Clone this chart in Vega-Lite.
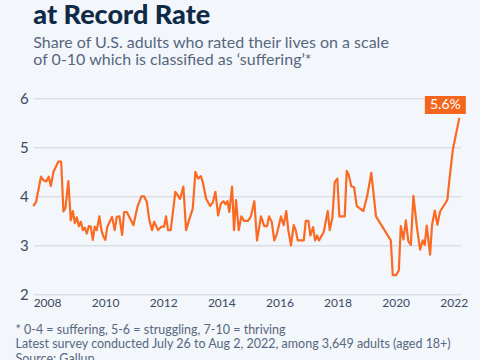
{
  "$schema": "https://vega.github.io/schema/vega-lite/v6.json",
  "width": 427.4,
  "height": 196,
  "autosize": {"type": "none"},
  "padding": {"left": 33.3, "top": 98.3, "right": 19.3, "bottom": 65.7},
  "background": "#f3f6fa",
  "config": {"view": {"stroke": null}, "font": "Lato"},
  "title": {
    "text": "at Record Rate",
    "subtitle": ["Share of U.S. adults who rated their lives on a scale", "of 0-10 which is classified as ‘suffering’*"],
    "anchor": "start",
    "frame": "group",
    "font": "Lato",
    "fontSize": 27,
    "fontWeight": 900,
    "color": "#0e2a47",
    "subtitleFont": "Lato",
    "subtitleFontSize": 16,
    "subtitleColor": "#56677f",
    "subtitleLineHeight": 17.5,
    "subtitlePadding": 5,
    "offset": 22
  },
  "data": {"values": [
    {"date": "2008-01-10", "value": 3.80},
    {"date": "2008-02-15", "value": 3.89},
    {"date": "2008-04-15", "value": 4.40},
    {"date": "2008-05-15", "value": 4.33},
    {"date": "2008-06-20", "value": 4.30},
    {"date": "2008-07-22", "value": 4.40},
    {"date": "2008-08-17", "value": 4.21},
    {"date": "2008-09-20", "value": 4.50},
    {"date": "2008-11-20", "value": 4.71},
    {"date": "2008-12-25", "value": 4.71},
    {"date": "2009-01-23", "value": 3.69},
    {"date": "2009-02-17", "value": 3.76},
    {"date": "2009-03-26", "value": 4.31},
    {"date": "2009-04-25", "value": 3.51},
    {"date": "2009-05-21", "value": 3.70},
    {"date": "2009-06-15", "value": 3.45},
    {"date": "2009-07-10", "value": 3.57},
    {"date": "2009-08-05", "value": 3.39},
    {"date": "2009-08-30", "value": 3.48},
    {"date": "2009-09-24", "value": 3.31},
    {"date": "2009-10-19", "value": 3.36},
    {"date": "2009-11-13", "value": 3.24},
    {"date": "2009-12-08", "value": 3.39},
    {"date": "2010-01-02", "value": 3.38},
    {"date": "2010-01-27", "value": 3.11},
    {"date": "2010-02-21", "value": 3.38},
    {"date": "2010-03-18", "value": 3.31},
    {"date": "2010-04-20", "value": 3.59},
    {"date": "2010-05-15", "value": 3.31},
    {"date": "2010-06-09", "value": 3.18},
    {"date": "2010-07-04", "value": 3.11},
    {"date": "2010-07-29", "value": 3.38},
    {"date": "2010-09-26", "value": 3.58},
    {"date": "2010-10-30", "value": 3.31},
    {"date": "2010-11-24", "value": 3.58},
    {"date": "2010-12-27", "value": 3.59},
    {"date": "2011-01-31", "value": 3.21},
    {"date": "2011-02-25", "value": 3.68},
    {"date": "2011-03-31", "value": 3.68},
    {"date": "2011-06-22", "value": 3.41},
    {"date": "2011-08-11", "value": 3.78},
    {"date": "2011-09-30", "value": 4.00},
    {"date": "2011-11-03", "value": 4.00},
    {"date": "2011-12-07", "value": 3.89},
    {"date": "2012-01-08", "value": 3.51},
    {"date": "2012-02-11", "value": 3.31},
    {"date": "2012-03-08", "value": 3.48},
    {"date": "2012-04-27", "value": 3.31},
    {"date": "2012-06-07", "value": 3.38},
    {"date": "2012-07-11", "value": 3.38},
    {"date": "2012-08-05", "value": 3.59},
    {"date": "2012-08-30", "value": 3.31},
    {"date": "2012-10-03", "value": 3.31},
    {"date": "2012-11-30", "value": 4.09},
    {"date": "2013-01-29", "value": 3.95},
    {"date": "2013-03-11", "value": 4.20},
    {"date": "2013-04-14", "value": 3.31},
    {"date": "2013-05-28", "value": 3.55},
    {"date": "2013-07-07", "value": 3.75},
    {"date": "2013-08-09", "value": 4.50},
    {"date": "2013-09-12", "value": 4.36},
    {"date": "2013-10-16", "value": 4.41},
    {"date": "2013-11-10", "value": 4.29},
    {"date": "2013-12-22", "value": 3.95},
    {"date": "2014-02-10", "value": 3.80},
    {"date": "2014-03-16", "value": 3.88},
    {"date": "2014-04-18", "value": 4.09},
    {"date": "2014-05-22", "value": 3.61},
    {"date": "2014-06-25", "value": 3.85},
    {"date": "2014-07-27", "value": 3.90},
    {"date": "2014-08-21", "value": 3.84},
    {"date": "2014-09-15", "value": 3.90},
    {"date": "2014-10-10", "value": 3.68},
    {"date": "2014-11-13", "value": 4.20},
    {"date": "2014-12-08", "value": 3.31},
    {"date": "2015-01-02", "value": 3.92},
    {"date": "2015-02-05", "value": 3.31},
    {"date": "2015-03-10", "value": 3.59},
    {"date": "2015-04-13", "value": 3.50},
    {"date": "2015-06-02", "value": 3.50},
    {"date": "2015-07-06", "value": 3.58},
    {"date": "2015-08-20", "value": 3.90},
    {"date": "2015-09-23", "value": 3.10},
    {"date": "2015-11-12", "value": 3.59},
    {"date": "2015-12-24", "value": 3.39},
    {"date": "2016-01-27", "value": 3.39},
    {"date": "2016-02-21", "value": 3.59},
    {"date": "2016-03-26", "value": 3.48},
    {"date": "2016-04-27", "value": 3.10},
    {"date": "2016-05-31", "value": 3.24},
    {"date": "2016-07-20", "value": 3.59},
    {"date": "2016-08-23", "value": 3.41},
    {"date": "2016-09-25", "value": 3.70},
    {"date": "2016-10-20", "value": 3.31},
    {"date": "2016-11-23", "value": 3.00},
    {"date": "2016-12-27", "value": 3.41},
    {"date": "2017-01-22", "value": 3.31},
    {"date": "2017-02-16", "value": 3.10},
    {"date": "2017-05-03", "value": 3.10},
    {"date": "2017-05-28", "value": 3.50},
    {"date": "2017-06-30", "value": 3.50},
    {"date": "2017-07-25", "value": 3.20},
    {"date": "2017-08-28", "value": 3.37},
    {"date": "2017-09-22", "value": 3.10},
    {"date": "2017-10-17", "value": 3.20},
    {"date": "2017-11-11", "value": 3.10},
    {"date": "2018-01-09", "value": 3.27},
    {"date": "2018-02-28", "value": 3.70},
    {"date": "2018-03-25", "value": 3.31},
    {"date": "2018-04-27", "value": 3.55},
    {"date": "2018-05-27", "value": 4.29},
    {"date": "2018-06-29", "value": 4.36},
    {"date": "2018-07-24", "value": 3.59},
    {"date": "2018-09-30", "value": 3.59},
    {"date": "2018-10-25", "value": 4.52},
    {"date": "2018-11-19", "value": 4.44},
    {"date": "2018-12-22", "value": 4.20},
    {"date": "2019-01-25", "value": 4.19},
    {"date": "2019-02-28", "value": 3.80},
    {"date": "2019-05-22", "value": 3.70},
    {"date": "2019-07-11", "value": 4.02},
    {"date": "2019-08-30", "value": 4.48},
    {"date": "2019-10-28", "value": 3.59},
    {"date": "2020-05-01", "value": 3.10},
    {"date": "2020-05-26", "value": 2.39},
    {"date": "2020-07-07", "value": 2.39},
    {"date": "2020-08-10", "value": 2.49},
    {"date": "2020-09-04", "value": 3.39},
    {"date": "2020-10-07", "value": 3.12},
    {"date": "2020-11-06", "value": 3.51},
    {"date": "2020-12-08", "value": 3.08},
    {"date": "2021-01-08", "value": 3.01},
    {"date": "2021-02-09", "value": 4.01},
    {"date": "2021-03-24", "value": 3.39},
    {"date": "2021-05-04", "value": 2.91},
    {"date": "2021-06-07", "value": 3.10},
    {"date": "2021-07-02", "value": 3.01},
    {"date": "2021-07-27", "value": 3.40},
    {"date": "2021-09-07", "value": 2.81},
    {"date": "2021-10-02", "value": 3.42},
    {"date": "2021-11-05", "value": 3.71},
    {"date": "2021-12-08", "value": 3.42},
    {"date": "2022-01-11", "value": 3.69},
    {"date": "2022-04-13", "value": 3.93},
    {"date": "2022-05-08", "value": 4.34},
    {"date": "2022-06-20", "value": 4.95},
    {"date": "2022-09-10", "value": 5.60}
  ]},
  "encoding": {
    "x": {
      "field": "date",
      "type": "temporal",
      "scale": {"domain": ["2008-01-10", "2022-09-27"]},
      "axis": {
        "values": [
          {"year": 2008, "month": 7, "date": 1},
          {"year": 2010, "month": 7, "date": 1},
          {"year": 2012, "month": 7, "date": 1},
          {"year": 2014, "month": 7, "date": 1},
          {"year": 2016, "month": 7, "date": 1},
          {"year": 2018, "month": 7, "date": 1},
          {"year": 2020, "month": 7, "date": 1},
          {"year": 2022, "month": 7, "date": 1}
        ],
        "format": "%Y",
        "grid": false,
        "domain": false,
        "ticks": false,
        "labelFont": "Lato",
        "labelFontSize": 12,
        "labelColor": "#3b4a63",
        "labelPadding": 3,
        "labelFlush": false,
        "title": ["* 0-4 = suffering, 5-6 = struggling, 7-10 = thriving", "Latest survey conducted July 26 to Aug 2, 2022, among 3,649 adults (aged 18+)", "Source: Gallup"],
        "titleFont": "Lato",
        "titleFontSize": 12.5,
        "titleFontWeight": "normal",
        "titleColor": "#56677f",
        "titleAnchor": "start",
        "titleAlign": "left",
        "titleBaseline": "alphabetic",
        "titleX": -18.3,
        "titleY": 38.7,
        "titleLineHeight": 14.8
      }
    },
    "y": {
      "field": "value",
      "type": "quantitative",
      "scale": {"domain": [2, 6]},
      "axis": {
        "values": [2, 3, 4, 5, 6],
        "title": null,
        "grid": true,
        "gridColor": "#cfd5dd",
        "domain": false,
        "ticks": false,
        "labelFont": "Lato",
        "labelFontSize": 15,
        "labelColor": "#3b4a63",
        "labelPadding": 5
      }
    }
  },
  "layer": [
    {"mark": {"type": "line", "color": "#fb6a22", "strokeWidth": 2.2, "strokeJoin": "round"}},
    {
      "transform": [
        {"joinaggregate": [{"op": "max", "field": "value", "as": "maxv"}]},
        {"filter": "datum.value == datum.maxv"},
        {"calculate": "format(datum.value, '.1f') + '%'", "as": "label"}
      ],
      "layer": [
        {"mark": {"type": "point", "shape": "M-1,-0.44H1V0.44H-1Z", "size": 1681, "filled": true, "opacity": 1, "color": "#f4661e", "xOffset": -14, "yOffset": -13}},
        {"mark": {"type": "text", "color": "white", "font": "Lato", "fontSize": 14, "dx": -14, "dy": -13, "align": "center", "baseline": "middle"}, "encoding": {"text": {"field": "label"}}}
      ]
    }
  ]
}
